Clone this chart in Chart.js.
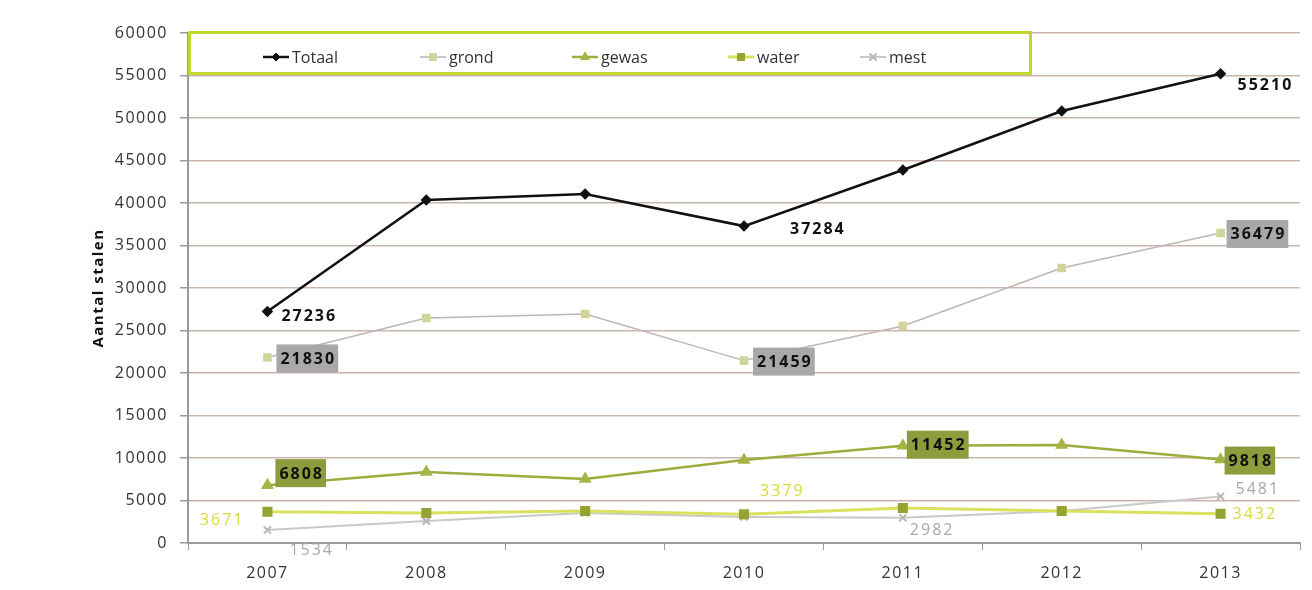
<!DOCTYPE html>
<html>
<head>
<meta charset="utf-8">
<script src="https://cdn.jsdelivr.net/npm/chart.js@4.4.1/dist/chart.umd.min.js"></script>
<style>
  html, body { margin: 0; padding: 0; background: #fff; }
  #wrap { width: 1312px; height: 590px; }
</style>
</head>
<body>
<div id="wrap"><canvas id="stalenChart" width="1312" height="590"></canvas></div>
<script>
const years = ["2007", "2008", "2009", "2010", "2011", "2012", "2013"];
const totaal = [27236, 40350, 41060, 37284, 43880, 50820, 55210];
const grond = [21830, 26470, 26940, 21459, 25530, 32350, 36479];
const gewas = [6808, 8350, 7530, 9760, 11452, 11530, 9818];
const water = [3671, 3530, 3760, 3379, 4120, 3760, 3432];
const mest = [1534, 2590, 3530, 3060, 2982, 3760, 5481];
const yTicks = [0, 5000, 10000, 15000, 20000, 25000, 30000, 35000, 40000, 45000, 50000, 55000, 60000];

// which points carry a value label, and how it is drawn
const labelStyle = {
  0: { idx: { 0: [14, 4], 3: [46, 2], 6: [17, 11] }, color: "#111", bg: null },
  1: { idx: { 0: [13, 1], 3: [13, 1], 6: [10, 1] }, color: "#111", bg: "#a8a8a8" },
  2: { idx: { 0: [12, -12], 4: [8, -1], 6: [8, 1] }, color: "#111", bg: "#8d9c3c" },
  3: { idx: { 0: [-23, 8, "right"], 3: [16, -24], 6: [12, 0] }, color: "#d6dc3a", bg: null, normal: true },
  4: { idx: { 0: [22, 19], 4: [7, 12], 6: [15, -8] }, color: "#a9a9a9", bg: null, normal: true }
};

const valueLabels = {
  id: "valueLabels",
  afterDatasetsDraw(chart) {
    const ctx = chart.ctx;
    chart.data.datasets.forEach((ds, di) => {
      const st = labelStyle[di];
      const meta = chart.getDatasetMeta(di);
      Object.keys(st.idx).forEach((k) => {
        const pt = meta.data[k];
        const [dx, dy, align] = st.idx[k];
        const txt = String(ds.data[k]);
        ctx.save();
        ctx.font = (st.normal ? "" : "bold ") + "16px 'Open Sans'";
        ctx.letterSpacing = "2px";
        ctx.textBaseline = "middle";
        ctx.textAlign = align || "left";
        const w = ctx.measureText(txt).width;
        const x = pt.x + dx;
        const y = pt.y + dy;
        if (st.bg) {
          const bx = (align === "right") ? x - w - 4 : x - 4;
          ctx.fillStyle = st.bg;
          ctx.fillRect(bx, y - 14, w + 6, 28);
        }
        ctx.fillStyle = st.color;
        ctx.fillText(txt, x, y + 1);
        ctx.restore();
      });
    });
  }
};

const boxLegend = {
  id: "boxLegend",
  afterDraw(chart) {
    const ctx = chart.ctx;
    const left = chart.chartArea.left;
    const top = chart.chartArea.top;
    ctx.save();
    ctx.letterSpacing = "0px";
    ctx.strokeStyle = "#c3d62e";
    ctx.lineWidth = 3;
    ctx.strokeRect(left + 1.5, top - 0.5, 841, 41);
    const starts = [75, 232, 384, 540, 672];
    chart.data.datasets.forEach((ds, i) => {
      const x0 = left + starts[i];
      const y = top + 24;
      ctx.strokeStyle = ds.borderColor;
      ctx.lineWidth = Math.min(ds.borderWidth, 3);
      ctx.beginPath();
      ctx.moveTo(x0, y);
      ctx.lineTo(x0 + 26, y);
      ctx.stroke();
      ctx.fillStyle = ds.pointBackgroundColor;
      ctx.strokeStyle = ds.pointBorderColor;
      ctx.lineWidth = ds.pointStyle === "crossRot" ? 2 : 1;
      Chart.helpers.drawPoint(ctx, {
        pointStyle: ds.pointStyle, radius: ds.pointRadius, rotation: 0,
        borderWidth: ctx.lineWidth
      }, x0 + 13, y);
      ctx.fillStyle = "#333";
      ctx.font = "16px 'Open Sans'";
      ctx.textBaseline = "middle";
      ctx.textAlign = "left";
      ctx.fillText(ds.label, x0 + 29, y + 1);
    });
    ctx.restore();
  }
};

const whiteBg = {
  id: "whiteBg",
  beforeDraw(chart) {
    const ctx = chart.ctx;
    ctx.save();
    ctx.fillStyle = "#fff";
    ctx.fillRect(0, 0, chart.width, chart.height);
    ctx.restore();
    // the scanned original is a bit wider in its glyphs
    ctx.letterSpacing = "1.5px";
  }
};

new Chart(document.getElementById("stalenChart").getContext("2d"), {
  type: "line",
  data: {
    labels: years,
    datasets: [
      { label: "Totaal", data: totaal, borderColor: "#111", borderWidth: 2.5,
        pointStyle: "rectRot", pointRadius: 4, pointBackgroundColor: "#111", pointBorderColor: "#111" },
      { label: "grond", data: grond, borderColor: "#bfb5b5", borderWidth: 1.5,
        pointStyle: "rect", pointRadius: 5, pointBackgroundColor: "#d0d59c", pointBorderColor: "#d0d59c" },
      { label: "gewas", data: gewas, borderColor: "#9dac3c", borderWidth: 2.5,
        pointStyle: "triangle", pointRadius: 5, pointBackgroundColor: "#a6b448", pointBorderColor: "#a6b448" },
      { label: "water", data: water, borderColor: "#d9e25e", borderWidth: 3,
        pointStyle: "rect", pointRadius: 5, pointBackgroundColor: "#95a332", pointBorderColor: "#95a332" },
      { label: "mest", data: mest, borderColor: "#c9c9c9", borderWidth: 2,
        pointStyle: "crossRot", pointRadius: 5, pointBackgroundColor: "#b8b8b8", pointBorderColor: "#b8b8b8",
        pointBorderWidth: 2 }
    ]
  },
  options: {
    responsive: false,
    animation: false,
    layout: { padding: { left: 84, top: 33, right: 12, bottom: 0 } },
    plugins: {
      legend: { display: false },
      tooltip: { enabled: false }
    },
    elements: { line: { tension: 0 } },
    scales: {
      x: {
        offset: true,
        grid: { offset: true, drawOnChartArea: false, drawTicks: true, tickLength: 7, color: "#9a9a9a" },
        border: { color: "#9a9a9a", width: 2 },
        ticks: { color: "#333", font: { family: "'Open Sans'", size: 16 }, padding: 14 },
        afterFit(scale) { scale.height = 47; }
      },
      y: {
        min: 0, max: 60000,
        afterBuildTicks(scale) { scale.ticks = yTicks.map(v => ({ value: v })); },
        grid: { color: "#cbb6ae", lineWidth: 1.5, tickLength: 8, tickColor: "#9a9a9a" },
        border: { color: "#9a9a9a", width: 2 },
        ticks: { color: "#333", font: { family: "'Open Sans'", size: 16 }, padding: 12,
          callback: (v) => String(v) },
        title: { display: true, text: "Aantal stalen", color: "#111",
          font: { family: "'Open Sans'", size: 15, weight: "bold" }, padding: { top: 6, bottom: 0 } },
        afterFit(scale) { scale.width = 104; }
      }
    }
  },
  plugins: [whiteBg, valueLabels, boxLegend]
});
</script>
</body>
</html>
